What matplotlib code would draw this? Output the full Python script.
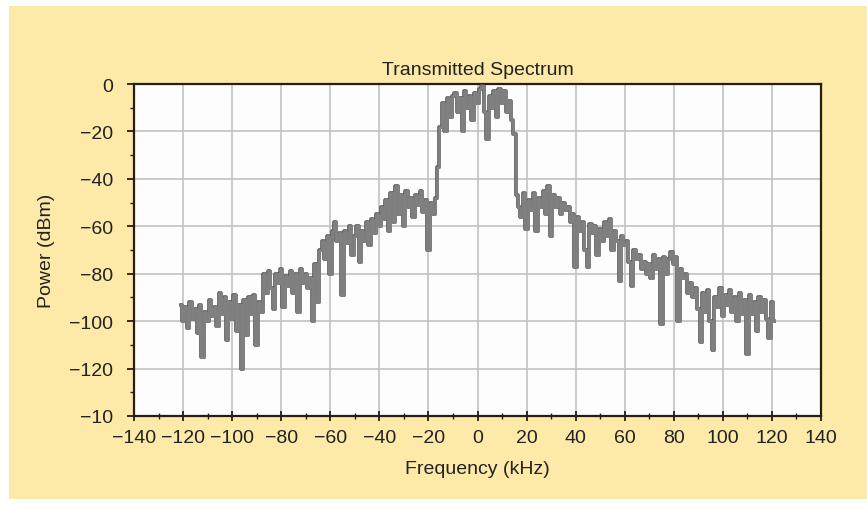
import numpy as np
import matplotlib
matplotlib.use("Agg")
import matplotlib.pyplot as plt
from matplotlib.patches import Rectangle

# frequency grid (kHz) and power (dBm), 1 kHz steps
freq_start = -121
freq_stop = 121
power = [
    -93, -100, -94, -103, -92, -99, -95, -105, -93, -115,
    -96, -100, -91, -98, -94, -102, -88, -97, -90, -108,
    -92, -99, -89, -104, -93, -120, -91, -106, -90, -97,
    -89, -110, -92, -96, -80, -88, -79, -86, -95, -80,
    -84, -78, -94, -81, -85, -79, -88, -80, -96, -78,
    -84, -80, -86, -82, -100, -76, -92, -70, -66, -74,
    -64, -80, -62, -58, -66, -63, -89, -62, -67, -60,
    -72, -64, -60, -75, -62, -66, -58, -68, -57, -63,
    -55, -60, -52, -57, -49, -62, -46, -58, -43, -55,
    -47, -60, -45, -52, -48, -56, -47, -51, -45, -54,
    -49, -70, -50, -55, -48, -35, -18, -8, -20, -6,
    -14, -5, -4, -12, -6, -20, -3, -10, -5, -15,
    -4, -8, -2, -1, -12, -23, -5, -10, -3, -14,
    -2, -8, -3, -12, -7, -15, -21, -47, -52, -56,
    -46, -61, -49, -53, -46, -62, -48, -52, -45, -55,
    -43, -64, -47, -52, -48, -55, -50, -53, -52, -58,
    -55, -77, -56, -62, -58, -70, -77, -59, -63, -60,
    -72, -61, -66, -58, -64, -57, -70, -62, -66, -83,
    -64, -68, -66, -75, -85, -70, -74, -72, -78, -75,
    -80, -76, -82, -72, -78, -74, -101, -73, -80, -74,
    -71, -76, -73, -100, -78, -82, -80, -88, -84, -90,
    -86, -95, -109, -88, -96, -87, -100, -112, -90, -94,
    -86, -98, -89, -93, -87, -96, -90, -100, -88, -97,
    -91, -114, -89, -97, -92, -104, -90, -96, -91, -99,
    -107, -92, -100,
]
freq = np.arange(freq_start, freq_stop + 1)

x_ticks = [-140, -120, -100, -80, -60, -40, -20, 0, 20, 40, 60, 80, 100, 120, 140]
x_labels = ["\u2212140", "\u2212120", "\u2212100", "\u221280", "\u221260", "\u221240", "\u221220",
            "0", "20", "40", "60", "80", "100", "120", "140"]
y_ticks = [0, -20, -40, -60, -80, -100, -120, -140]
y_labels = ["0", "\u221220", "\u221240", "\u221260", "\u221280", "\u2212100", "\u2212120", "\u221210"]

plt.rcParams['font.family'] = ['Liberation Sans', 'DejaVu Sans']

fig = plt.figure(figsize=(8.67, 5.10), dpi=100, facecolor="white")

# yellow panel behind the chart
fig.patches.append(Rectangle((9 / 867, 1 - 500 / 510), 1 - 9 / 867, (500 - 7) / 510,
                             transform=fig.transFigure, facecolor="#fde9a8",
                             edgecolor="none", zorder=-10))

ax = fig.add_axes([134 / 867, 1 - 417 / 510, (821 - 134) / 867, (417 - 85) / 510])
ax.set_zorder(5)
ax.set_facecolor("#fdfdfd")

# darker under-trace, then the gray trace on top
ax.plot(freq, power, color="#555555", lw=2.6, drawstyle="steps-mid", zorder=3)
ax.plot(freq, power, color="#808080", lw=2.1, drawstyle="steps-mid", zorder=4)

ax.set_xlim(-140, 140)
ax.set_ylim(-140, 0)
ax.set_xticks(x_ticks)
ax.set_xticklabels(x_labels)
ax.set_yticks(y_ticks)
ax.set_yticklabels(y_labels)
ax.set_xticks(np.arange(-130, 140, 20), minor=True)
ax.set_yticks(np.arange(-130, 0, 20), minor=True)

ax.grid(True, which="major", color="#c2c2c2", lw=1.2)
ax.set_axisbelow(True)

for s in ax.spines.values():
    s.set_color("#2a1c14")
    s.set_linewidth(1.6)

ax.tick_params(axis="x", which="major", direction="inout", length=7, width=1.3,
               labelsize=14, pad=6, colors="#2a1c14", labelcolor="#222222")
ax.tick_params(axis="x", which="minor", direction="inout", length=4, width=1.0, colors="#2a1c14")
ax.tick_params(axis="y", which="major", direction="out", length=5, width=1.3,
               labelsize=14, pad=10, colors="#2a1c14", labelcolor="#222222")
ax.tick_params(axis="y", which="minor", direction="out", length=3, width=1.0, colors="#2a1c14")

ax.set_title("Transmitted Spectrum", fontsize=14, color="#222222", pad=7)
ax.set_xlabel("Frequency (kHz)", fontsize=14, color="#222222", labelpad=10)
ax.set_ylabel("Power (dBm)", fontsize=14, color="#222222", labelpad=10)

fig.savefig("out.png", dpi=100, facecolor=fig.get_facecolor())
